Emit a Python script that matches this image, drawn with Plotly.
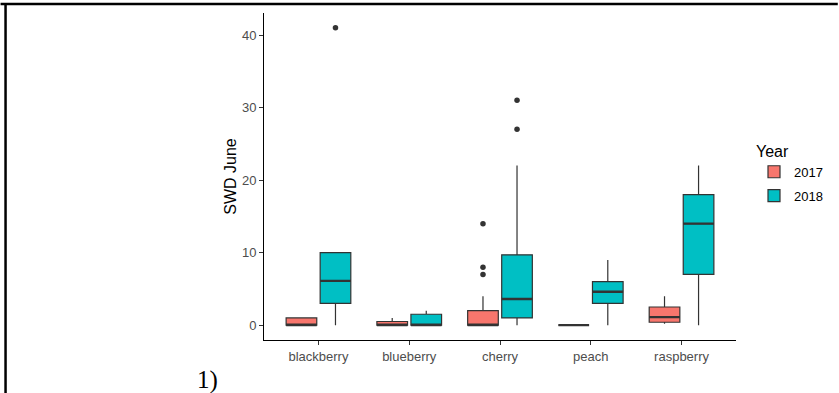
import plotly.graph_objects as go

# ---- data ----
categories = ["blackberry", "blueberry", "cherry", "peach", "raspberry"]
years = ["2017", "2018"]

q1_2017 = [0, 0, 0, 0, 0.4]
median_2017 = [0, 0, 0, 0, 1.1]
q3_2017 = [1, 0.5, 2, 0, 2.5]
lower_2017 = [0, 0, 0, 0, 0.2]
upper_2017 = [1, 1, 4, 0, 4]

q1_2018 = [3, 0, 1, 3, 7]
median_2018 = [6.1, 0, 3.6, 4.6, 14]
q3_2018 = [10, 1.5, 9.7, 6, 18]
lower_2018 = [0, 0, 0, 0, 0]
upper_2018 = [10, 2, 22, 9, 22]

outlier_cat_2017 = ["cherry", "cherry", "cherry"]
outlier_val_2017 = [14, 8, 7]
outlier_cat_2018 = ["blackberry", "cherry", "cherry"]
outlier_val_2018 = [41, 31, 27]

y_ticks = [0, 10, 20, 30, 40]

# ---- styling / layout ----
W, H = 839, 393
ML, MR, MT, MB = 264, 102, 13, 53
PW, PH = W - ML - MR, H - MT - MB
FILL = {"2017": "#F8766D", "2018": "#00BFC4"}
DODGE = {"2017": -0.1875, "2018": 0.1875}
BOXW = 0.3375
LINE = "#333333"
FONT = "Liberation Sans"

def px_x(p):
    return (p - ML) / PW

def px_y(p):
    return (H - MB - p) / PH

stats = {
    "2017": (q1_2017, median_2017, q3_2017, lower_2017, upper_2017,
             outlier_cat_2017, outlier_val_2017),
    "2018": (q1_2018, median_2018, q3_2018, lower_2018, upper_2018,
             outlier_cat_2018, outlier_val_2018),
}

fig = go.Figure()
for yr in years:
    q1, med, q3, lo, hi, ocat, oval = stats[yr]
    pos = [i + 1 + DODGE[yr] for i in range(len(categories))]
    fig.add_trace(go.Box(
        x=pos, q1=q1, median=med, q3=q3, lowerfence=lo, upperfence=hi,
        width=BOXW, name=yr, legendgroup=yr, fillcolor=FILL[yr],
        line=dict(color=LINE, width=1.2), whiskerwidth=0, boxpoints=False,
        hoverinfo="skip",
    ))
    # thicker median line (ggplot style)
    fig.add_trace(go.Box(
        x=pos, q1=med, median=med, q3=med, lowerfence=med, upperfence=med,
        width=BOXW, name=yr, legendgroup=yr, showlegend=False,
        fillcolor="rgba(0,0,0,0)", line=dict(color=LINE, width=2.4),
        whiskerwidth=0, boxpoints=False, hoverinfo="skip",
    ))
    fig.add_trace(go.Scatter(
        x=[categories.index(c) + 1 + DODGE[yr] for c in ocat], y=oval,
        mode="markers", marker=dict(color=LINE, size=5.5),
        legendgroup=yr, showlegend=False, hoverinfo="skip",
    ))

fig.update_layout(
    width=W, height=H,
    margin=dict(l=ML, r=MR, t=MT, b=MB),
    paper_bgcolor="white", plot_bgcolor="white",
    boxmode="overlay",
    font=dict(family=FONT, size=13, color="#4D4D4D"),
    showlegend=True,
    legend=dict(
        title=dict(text="Year", font=dict(family=FONT, size=16, color="black")),
        font=dict(family=FONT, size=13, color="black"),
        x=px_x(754), xanchor="left", y=px_y(136), yanchor="top",
        tracegroupgap=4, traceorder="grouped", bgcolor="rgba(0,0,0,0)",
    ),
    xaxis=dict(
        range=[0.4, 5.6], tickmode="array",
        tickvals=list(range(1, len(categories) + 1)), ticktext=categories,
        showline=True, linecolor="black", linewidth=1,
        ticks="outside", ticklen=4, tickcolor=LINE,
        showgrid=False, zeroline=False,
        tickfont=dict(family=FONT, size=13, color="#4D4D4D"),
    ),
    yaxis=dict(
        range=[-2.05, 43.05], tickmode="array", tickvals=y_ticks,
        showline=True, linecolor="black", linewidth=1,
        ticks="outside", ticklen=4, tickcolor=LINE,
        showgrid=False, zeroline=False,
        title=dict(text="SWD June", font=dict(family=FONT, size=16, color="black"),
                   standoff=1),
        tickfont=dict(family=FONT, size=13, color="#4D4D4D"),
    ),
    shapes=[
        dict(type="line", xref="paper", yref="paper",
             x0=px_x(0), x1=px_x(W), y0=px_y(4), y1=px_y(4),
             line=dict(color="black", width=2.5)),
        dict(type="line", xref="paper", yref="paper",
             x0=px_x(5), x1=px_x(5), y0=px_y(3), y1=px_y(H),
             line=dict(color="black", width=2.5)),
    ],
    annotations=[
        dict(text="1)", xref="paper", yref="paper", x=px_x(195), y=px_y(380),
             xanchor="left", yanchor="middle", showarrow=False,
             font=dict(family="Liberation Serif", size=25, color="black")),
    ],
)

fig.write_html("out.html")
